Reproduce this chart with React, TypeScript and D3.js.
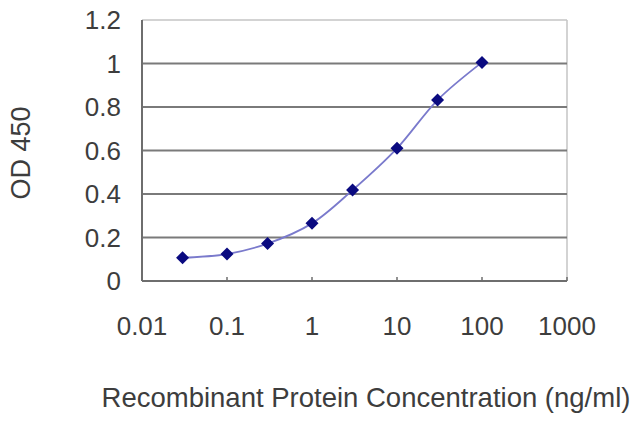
import React from "react";
import * as d3 from "d3";

const concentrations = [0.03, 0.1, 0.3, 1, 3, 10, 30, 100];
const odValues = [0.107, 0.124, 0.172, 0.265, 0.418, 0.61, 0.832, 1.005];
const xTicks = [0.01, 0.1, 1, 10, 100, 1000];
const yTicks = [0, 0.2, 0.4, 0.6, 0.8, 1, 1.2];
const xTitle = "Recombinant Protein Concentration (ng/ml)";
const yTitle = "OD 450";

export default function App() {
  const W = 640, H = 427;
  const left = 142, right = 567, top = 20, bottom = 281;
  const x = d3.scaleLog().domain([0.01, 1000]).range([left, right]);
  const y = d3.scaleLinear().domain([0, 1.2]).range([bottom, top]);
  const pts = concentrations.map((c, i) => [x(c), y(odValues[i])] as [number, number]);
  const line = d3.line().curve(d3.curveCatmullRom.alpha(0.5))(pts) || "";
  const font = "'Liberation Sans', Arial, sans-serif";
  const textColor = "#3d3d3d";
  const diamond = (cx: number, cy: number) => {
    const r = 6.5;
    return `M${cx},${cy - r}L${cx + r},${cy}L${cx},${cy + r}L${cx - r},${cy}Z`;
  };
  return (
    <svg width={W} height={H} style={{ position: "absolute", left: 0, top: 0, background: "#fff" }}>
      <rect x={0} y={0} width={W} height={H} fill="#fff" />
      <line x1={left} x2={right} y1={top} y2={top} stroke="#c4c4c4" strokeWidth={1.5} />
      <line x1={right} x2={right} y1={top} y2={bottom} stroke="#c4c4c4" strokeWidth={1.5} />
      {yTicks.filter((t) => t > 0 && t < 1.2).map((t) => (
        <line key={t} x1={left} x2={right} y1={y(t)} y2={y(t)} stroke="#7a7a7a" strokeWidth={2} />
      ))}
      <line x1={left} x2={left} y1={top} y2={bottom} stroke="#6e6e6e" strokeWidth={2} />
      <line x1={left} x2={right} y1={bottom} y2={bottom} stroke="#6e6e6e" strokeWidth={2} />
      {xTicks.map((t) => (
        <line key={t} x1={x(t)} x2={x(t)} y1={bottom} y2={bottom - 4} stroke="#6e6e6e" strokeWidth={1.5} />
      ))}
      {yTicks.map((t) => (
        <text key={t} x={121} y={y(t)} dy="0.36em" textAnchor="end" fontFamily={font} fontSize={26} fill={textColor}>
          {d3.format("~g")(t)}
        </text>
      ))}
      {xTicks.map((t) => (
        <text key={t} x={x(t)} y={335} textAnchor="middle" fontFamily={font} fontSize={26} fill={textColor}>
          {String(t)}
        </text>
      ))}
      <text x={366} y={407} textAnchor="middle" fontFamily={font} fontSize={27.5} fill={textColor}>
        {xTitle}
      </text>
      <text transform={`translate(30,153) rotate(-90)`} textAnchor="middle" fontFamily={font} fontSize={27} fill={textColor}>
        {yTitle}
      </text>
      <path d={line} fill="none" stroke="#7a7acc" strokeWidth={1.8} />
      {pts.map(([cx, cy], i) => (
        <path key={i} d={diamond(cx, cy)} fill="#0a0a80" />
      ))}
    </svg>
  );
}
